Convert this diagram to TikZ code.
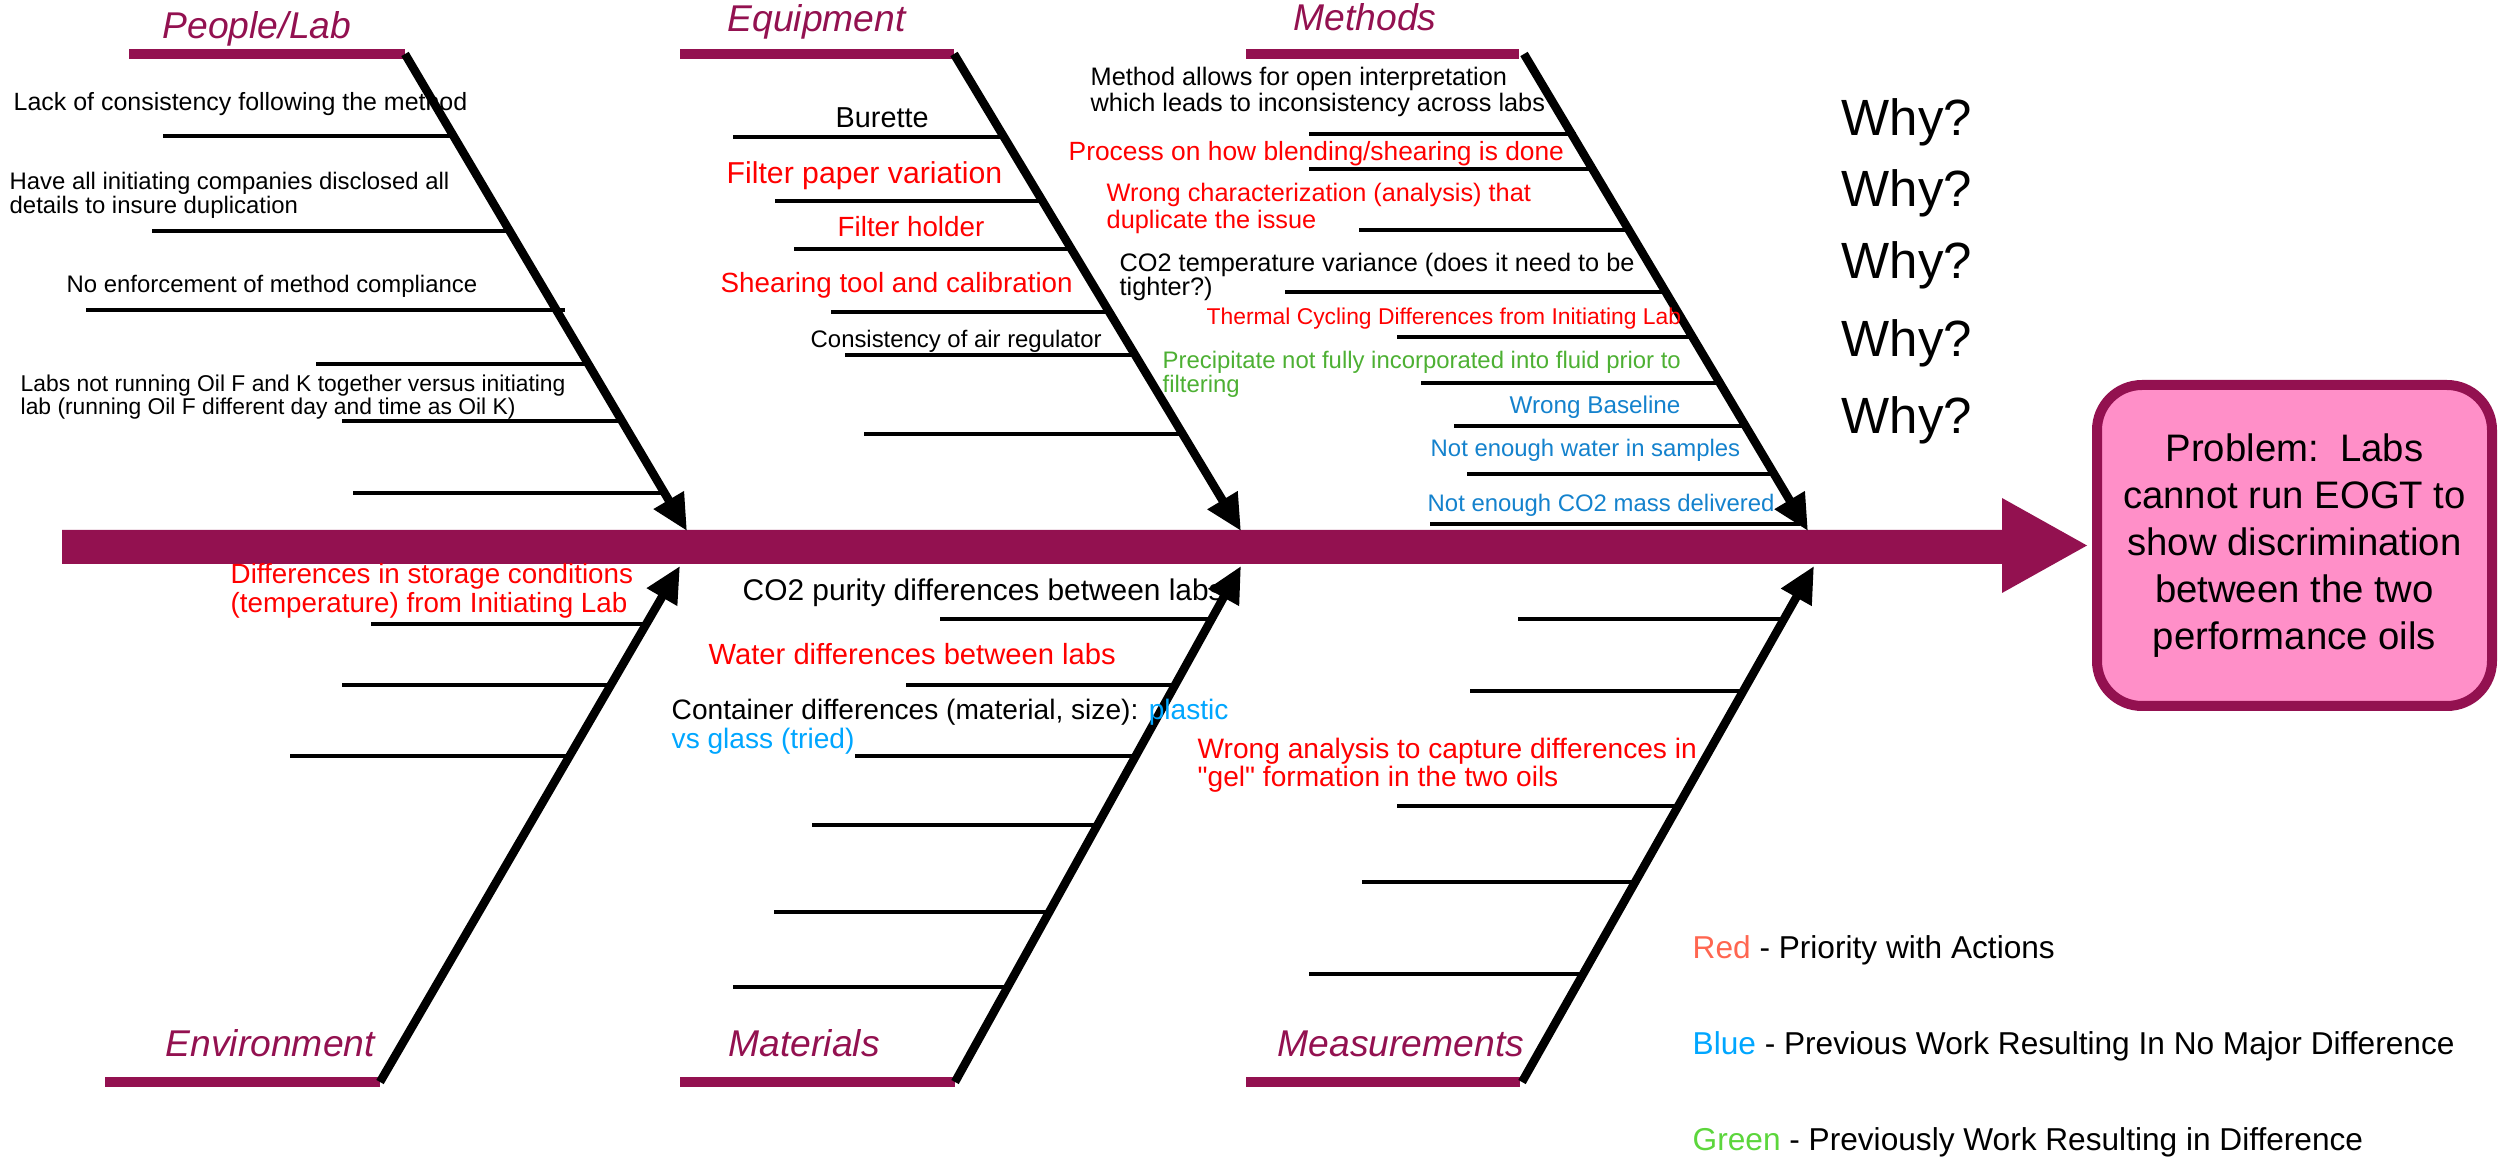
\documentclass[tikz,border=0pt]{standalone}
\usepackage{fontspec}
\setmainfont{Liberation Sans}
\usetikzlibrary{arrows.meta}
\definecolor{maroon}{RGB}{147,17,80}
\definecolor{boxpink}{RGB}{255,143,200}
\definecolor{prio}{RGB}{255,0,0}
\definecolor{diffgreen}{RGB}{77,176,51}
\definecolor{nodiffblue}{RGB}{20,130,205}
\definecolor{skyblue}{RGB}{0,166,255}
\definecolor{keyred}{RGB}{255,102,80}
\definecolor{keygreen}{RGB}{92,214,60}
\begin{document}
\begin{tikzpicture}[x=0.1mm,y=-0.1mm,
  bone/.style={line width=0.85mm,-{Triangle[length=3.6mm,width=3.3mm]}},
  twig/.style={line width=0.4mm},
  bar/.style={maroon,line width=1mm},
  lbl/.style={inner sep=0,anchor=base west,align=left},
  fs/.style 2 args={font=\fontsize{#1}{#2}\selectfont},
  cat/.style={lbl,text=maroon,font=\fontsize{10.6}{12}\selectfont\itshape}]
  \useasboundingbox (0,0) rectangle (2499,1160);
  \node[draw=maroon,line width=1mm,fill=boxpink,rounded corners=4.5mm,
        minimum width=39.5mm,minimum height=32.1mm,inner sep=0,align=center,
        fs={10.9}{13.4}] (problem) at (2294.5,545.5)
        {Problem:\ \ Labs\\cannot run EOGT to\\show discrimination\\between the two\\performance oils};
  \fill[maroon] (62,530) -- (2002,530) -- (2002,498) -- ([xshift=-0.5mm]problem.west)
    -- (2002,593) -- (2002,564) -- (62,564) -- cycle;
  \begin{scope}
    \node[cat] (people) at (162,39) {People/Lab};
    \draw[bar] (129,54) -- (405,54) coordinate (pl);
    \coordinate (pltip) at (687,531);
    \draw[twig] (163,136) -- (452,136);
    \draw[twig] (152,231) -- (507,231);
    \draw[twig] (86,310) -- (565,310);
    \draw[twig] (316,364) -- (586,364);
    \draw[twig] (342,421) -- (620,421);
    \draw[twig] (353,493) -- (662,493);
    \draw[bone] (pl) -- (pltip);
    \node[lbl,fs={7.1}{7.5}] (lack) at (13,111) {Lack of consistency following the method};
    \node[lbl,fs={6.8}{7.1}] (disclose) at (9,214) {Have all initiating companies disclosed all\\details to insure duplication};
    \node[lbl,fs={6.8}{7.1}] (enforce) at (66,293) {No enforcement of method compliance};
    \node[lbl,fs={6.5}{6.8}] (oilfk) at (20,415) {Labs not running Oil F and K together versus initiating\\lab (running Oil F different day and time as Oil K)};
  \end{scope}
  \begin{scope}
    \node[cat] (equip) at (727,32) {Equipment};
    \draw[bar] (680,54) -- (954,54) coordinate (eq);
    \coordinate (eqtip) at (1241,531);
    \draw[twig] (733,137) -- (1003,137);
    \draw[twig] (775,201) -- (1046,201);
    \draw[twig] (794,249) -- (1071,249);
    \draw[twig] (831,312) -- (1108,312);
    \draw[twig] (845,355) -- (1134,355);
    \draw[twig] (864,434) -- (1180,434);
    \draw[bone] (eq) -- (eqtip);
    \node[lbl,fs={8.2}{9}] (burette) at (835,128) {Burette};
    \node[lbl,fs={8.6}{9},text=prio] (paper) at (726,184) {Filter paper variation};
    \node[lbl,fs={7.9}{9},text=prio] (holder) at (837,237) {Filter holder};
    \node[lbl,fs={7.9}{9},text=prio] (shear) at (720,293) {Shearing tool and calibration};
    \node[lbl,fs={6.8}{7.2}] (airreg) at (810,348) {Consistency of air regulator};
  \end{scope}
  \begin{scope}
    \node[cat] (methods) at (1293,31) {Methods};
    \draw[bar] (1246,54) -- (1519,54);
    \coordinate (me) at (1524,54);
    \coordinate (metip) at (1808,531);
    \draw[twig] (1309,134) -- (1576,134);
    \draw[twig] (1309,169) -- (1592,169);
    \draw[twig] (1359,230) -- (1628,230);
    \draw[twig] (1285,292) -- (1664,292);
    \draw[twig] (1397,337) -- (1691,337);
    \draw[twig] (1421,383) -- (1718,383);
    \draw[twig] (1454,426) -- (1748,426);
    \draw[twig] (1467,474) -- (1772,474);
    \draw[twig] (1430,524) -- (1800,524);
    \draw[bone] (me) -- (metip);
    \node[lbl,fs={7.2}{7.4}] (interp) at (1090,112) {Method allows for open interpretation\\which leads to inconsistency across labs};
    \node[lbl,fs={7.5}{8},text=prio] (blend) at (1068,161) {Process on how blending/shearing is done};
    \node[lbl,fs={7.2}{7.7},text=prio] (wrongchar) at (1106,229) {Wrong characterization (analysis) that\\duplicate the issue};
    \node[lbl,fs={7.2}{7.1}] (cotemp) at (1119,296) {CO2 temperature variance (does it need to be\\tighter?)};
    \node[lbl,fs={6.5}{7},text=prio] (thermal) at (1206,325) {Thermal Cycling Differences from Initiating Lab};
    \node[lbl,fs={6.8}{7.1},text=diffgreen] (precip) at (1162,393) {Precipitate not fully incorporated into fluid prior to\\filtering};
    \node[lbl,fs={6.9}{7},text=nodiffblue] (baseline) at (1509,414) {Wrong Baseline};
    \node[lbl,fs={6.8}{7},text=nodiffblue] (water) at (1430,457) {Not enough water in samples};
    \node[lbl,fs={6.8}{7},text=nodiffblue] (comass) at (1427,512) {Not enough CO2 mass delivered};
  \end{scope}
  \begin{scope}
    \node[cat] (envir) at (165,1056) {Environment};
    \draw[bar] (105,1082) -- (380,1082) coordinate (en);
    \coordinate (entip) at (680,566);
    \draw[twig] (371,624) -- (645,624);
    \draw[twig] (342,685) -- (612,685);
    \draw[twig] (290,756) -- (570,756);
    \draw[bone] (en) -- (entip);
    \node[lbl,fs={7.9}{8.5},text=prio] (storage) at (230,613) {Differences in storage conditions\\(temperature) from Initiating Lab};
  \end{scope}
  \begin{scope}
    \node[cat] (materials) at (728,1056) {Materials};
    \draw[bar] (680,1082) -- (955,1082) coordinate (ma);
    \coordinate (matip) at (1241,566);
    \draw[twig] (940,619) -- (1211,619);
    \draw[twig] (906,685) -- (1175,685);
    \draw[twig] (855,756) -- (1135,756);
    \draw[twig] (812,825) -- (1097,825);
    \draw[twig] (774,912) -- (1049,912);
    \draw[twig] (733,987) -- (1007,987);
    \draw[bone] (ma) -- (matip);
    \node[lbl,fs={8.5}{9}] (purity) at (742,601) {CO2 purity differences between labs};
    \node[lbl,fs={8.3}{9},text=prio] (waterdiff) at (708,665) {Water differences between labs};
    \node[lbl,fs={8}{8.5}] (container) at (671,749) {Container differences (material, size): {\color{skyblue}plastic}\\{\color{skyblue}vs glass (tried)}};
  \end{scope}
  \begin{scope}
    \node[cat] (measure) at (1277,1056) {Measurements};
    \draw[bar] (1246,1082) -- (1520,1082);
    \coordinate (mm) at (1522,1082);
    \coordinate (mmtip) at (1814,566);
    \draw[twig] (1518,619) -- (1784,619);
    \draw[twig] (1470,691) -- (1743,691);
    \draw[twig] (1397,806) -- (1678,806);
    \draw[twig] (1362,882) -- (1636,882);
    \draw[twig] (1309,974) -- (1584,974);
    \draw[bone] (mm) -- (mmtip);
    \node[lbl,fs={8}{8},text=prio] (gel) at (1197,787) {Wrong analysis to capture differences in\\\textquotedbl gel\textquotedbl{} formation in the two oils};
  \end{scope}
  \node[lbl,fs={14.5}{16}] (why1) at (1841,136) {Why?};
  \node[lbl,fs={14.5}{16}] (why2) at (1841,207) {Why?};
  \node[lbl,fs={14.5}{16}] (why3) at (1841,279) {Why?};
  \node[lbl,fs={14.5}{16}] (why4) at (1841,357) {Why?};
  \node[lbl,fs={14.5}{16}] (why5) at (1841,434) {Why?};
  \node[lbl,fs={9}{10}] (keyred) at (1692,959) {{\color{keyred}Red} - Priority with Actions};
  \node[lbl,fs={9}{10}] (keyblue) at (1692,1055) {{\color{skyblue}Blue} - Previous Work Resulting In No Major Difference};
  \node[lbl,fs={9}{10}] (keygreen) at (1692,1151) {{\color{keygreen}Green} - Previously Work Resulting in Difference};
\end{tikzpicture}
\end{document}
